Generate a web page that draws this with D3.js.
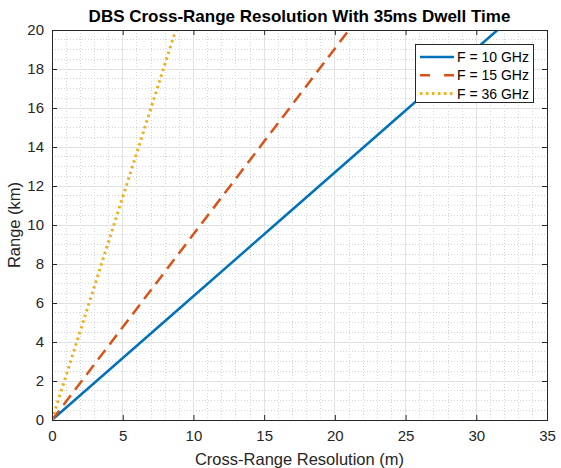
<!DOCTYPE html>
<html>
<head>
<meta charset="utf-8">
<script src="https://cdn.jsdelivr.net/npm/d3@7"></script>
<style>
  body { margin: 0; background: #fff; }
  svg { display: block; font-family: "Liberation Sans", Arial, sans-serif; }
</style>
</head>
<body>
<svg id="chart" width="561" height="468"></svg>
<script>
// Slant range samples (km)
const rangeKm = [0, 5, 10, 15, 20];
// Cross-range resolution (m) at each range, per carrier frequency
const res10GHz = [0, 7.875, 15.75, 23.625, 31.5];
const res15GHz = [0, 5.25, 10.5, 15.75, 21.0];
const res36GHz = [0, 2.1875, 4.375, 6.5625, 8.75];
const seriesNames = ["F = 10 GHz", "F = 15 GHz", "F = 36 GHz"];
const xTicks = [0, 5, 10, 15, 20, 25, 30, 35];
const yTicks = [0, 2, 4, 6, 8, 10, 12, 14, 16, 18, 20];

const svg = d3.select("#chart");
const m = { left: 52, right: 547, top: 30, bottom: 420 };

const x = d3.scaleLinear().domain([0, 35]).range([m.left, m.right]);
const y = d3.scaleLinear().domain([0, 20]).range([m.bottom, m.top]);

const axisColor = "#262626";
const tickColor = "#262626";

// Minor grid (dotted)
const gMinor = svg.append("g");
const xMinor = d3.range(0, 35.001, 1).filter(v => v % 5 !== 0);
const yMinor = d3.range(0, 20.001, 0.5).filter(v => v % 2 !== 0);
gMinor.selectAll("line.vx").data(xMinor).join("line")
  .attr("x1", d => x(d)).attr("x2", d => x(d))
  .attr("y1", m.top).attr("y2", m.bottom);
gMinor.selectAll("line.hy").data(yMinor).join("line")
  .attr("x1", m.left).attr("x2", m.right)
  .attr("y1", d => y(d)).attr("y2", d => y(d));
gMinor.selectAll("line")
  .attr("stroke", "#d4d4d4").attr("stroke-width", 1)
  .attr("stroke-dasharray", "1,2").attr("shape-rendering", "crispEdges");

// Major grid (solid)
const gMajor = svg.append("g");
gMajor.selectAll("line.vx").data(xTicks.slice(1, -1)).join("line")
  .attr("x1", d => x(d)).attr("x2", d => x(d))
  .attr("y1", m.top).attr("y2", m.bottom);
gMajor.selectAll("line.hy").data(yTicks.slice(1, -1)).join("line")
  .attr("x1", m.left).attr("x2", m.right)
  .attr("y1", d => y(d)).attr("y2", d => y(d));
gMajor.selectAll("line")
  .attr("stroke", "#e1e1e1").attr("stroke-width", 1)
  .attr("shape-rendering", "crispEdges");

// Data lines
const colors = ["#0072BD", "#D95319", "#EDB120"];
const dashes = [null, "12,7", "2.5,3.5"];
const widths = [2.5, 2.5, 3];
const allRes = [res10GHz, res15GHz, res36GHz];
const line = d3.line().x(d => x(d[0])).y(d => y(d[1]));

svg.append("defs").append("clipPath").attr("id", "plotClip")
  .append("rect").attr("x", m.left).attr("y", m.top)
  .attr("width", m.right - m.left).attr("height", m.bottom - m.top);

const gLines = svg.append("g").attr("clip-path", "url(#plotClip)");
allRes.forEach((vals, i) => {
  const pts = vals.map((v, k) => [v, rangeKm[k]]);
  gLines.append("path")
    .attr("d", line(pts))
    .attr("fill", "none")
    .attr("stroke", colors[i])
    .attr("stroke-width", widths[i])
    .attr("stroke-dasharray", dashes[i]);
});

// Axes with inward ticks, mirrored on top/right
const xAxisB = d3.axisBottom(x).tickValues(xTicks).tickSizeInner(-5).tickSizeOuter(0).tickPadding(10);
const xAxisT = d3.axisTop(x).tickValues(xTicks).tickSizeInner(-5).tickSizeOuter(0).tickFormat("");
const yAxisL = d3.axisLeft(y).tickValues(yTicks).tickSizeInner(-5).tickSizeOuter(0).tickPadding(8);
const yAxisR = d3.axisRight(y).tickValues(yTicks).tickSizeInner(-5).tickSizeOuter(0).tickFormat("");

function styleAxis(g) {
  g.select(".domain").remove();
  g.selectAll(".tick line").attr("stroke", tickColor);
  g.selectAll(".tick text").attr("fill", tickColor)
    .style("font-size", "15px").style("font-family", "'Liberation Sans', Arial, sans-serif");
}
svg.append("g").attr("transform", `translate(0,${m.bottom})`).call(xAxisB).call(styleAxis);
svg.append("g").attr("transform", `translate(0,${m.top})`).call(xAxisT).call(styleAxis);
svg.append("g").attr("transform", `translate(${m.left},0)`).call(yAxisL).call(styleAxis);
svg.append("g").attr("transform", `translate(${m.right},0)`).call(yAxisR).call(styleAxis);

// Box
svg.append("rect")
  .attr("x", m.left + 0.5).attr("y", m.top + 0.5)
  .attr("width", m.right - m.left).attr("height", m.bottom - m.top)
  .attr("fill", "none").attr("stroke", axisColor).attr("stroke-width", 1)
  .attr("shape-rendering", "crispEdges");

// Title and axis labels
svg.append("text")
  .attr("x", (m.left + m.right) / 2).attr("y", 22)
  .attr("text-anchor", "middle")
  .style("font-size", "17px").style("font-weight", "bold").attr("fill", "#000")
  .text("DBS Cross-Range Resolution With 35ms Dwell Time");

svg.append("text")
  .attr("x", (m.left + m.right) / 2).attr("y", 465)
  .attr("text-anchor", "middle")
  .style("font-size", "16.5px").attr("fill", tickColor)
  .text("Cross-Range Resolution (m)");

svg.append("text")
  .attr("transform", `translate(20,${(m.top + m.bottom) / 2}) rotate(-90)`)
  .attr("text-anchor", "middle")
  .style("font-size", "16.5px").attr("fill", tickColor)
  .text("Range (km)");

// Legend
const lg = svg.append("g");
lg.append("rect")
  .attr("x", 415.5).attr("y", 44.5).attr("width", 118).attr("height", 58)
  .attr("fill", "#fff").attr("stroke", axisColor).attr("stroke-width", 1)
  .attr("shape-rendering", "crispEdges");
seriesNames.forEach((name, i) => {
  const ly = 57 + i * 18.3;
  lg.append("line")
    .attr("x1", 420).attr("x2", 454).attr("y1", ly).attr("y2", ly)
    .attr("stroke", colors[i])
    .attr("stroke-width", widths[i])
    .attr("stroke-dasharray", i === 1 ? "10,14" : dashes[i]);
  lg.append("text")
    .attr("x", 457).attr("y", ly + 5)
    .style("font-size", "14px").attr("fill", "#000")
    .text(name);
});
</script>
</body>
</html>
